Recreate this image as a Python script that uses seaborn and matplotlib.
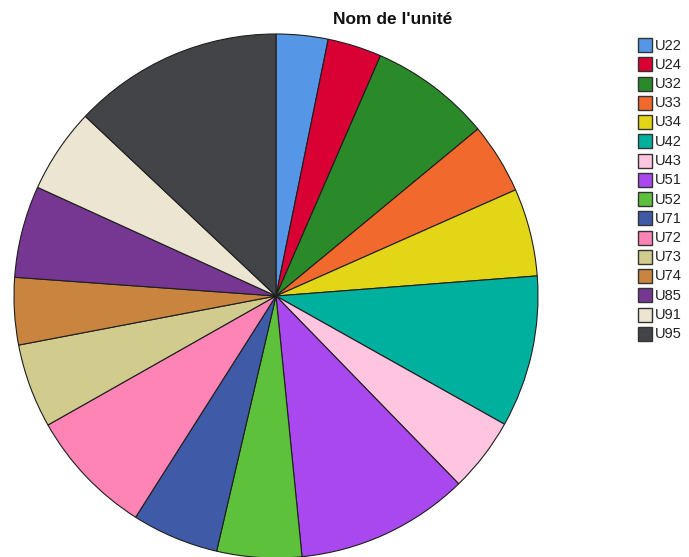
import matplotlib
matplotlib.use("Agg")
import matplotlib.pyplot as plt
from matplotlib.patches import Rectangle
import seaborn as sns

# Share of each unit (degrees of the full circle)
units = ["U22", "U24", "U32", "U33", "U34", "U42", "U43", "U51",
         "U52", "U71", "U72", "U73", "U74", "U85", "U91", "U95"]
shares = [11.5, 12.0, 26.9, 15.7, 19.5, 33.7, 16.5, 38.5,
          18.8, 19.3, 28.1, 18.7, 14.9, 20.4, 18.8, 46.7]
colors = ["#5597e6", "#d90033", "#2a8a2a", "#f2692d", "#e3d617", "#00b09f",
          "#ffc4e0", "#a948ef", "#5ec13b", "#3f5ba8", "#fe84b5", "#d1cb8e",
          "#c98540", "#753791", "#ebe5d2", "#434447"]

sns.set_theme(style="white")
plt.rcParams["font.family"] = ["Liberation Sans", "DejaVu Sans"]
palette = sns.color_palette(colors)

W, H = 689, 557
fig = plt.figure(figsize=(W / 100, H / 100), dpi=100)
fig.patch.set_facecolor("white")

# pie box: centre (276, 296) px, radius 262 px
cx, cy, r = 276, 296, 262
ax = fig.add_axes([(cx - r) / W, (H - cy - r) / H, 2 * r / W, 2 * r / H])
wedges, _ = ax.pie(shares, colors=palette, startangle=90, counterclock=False,
                   radius=1.0,
                   wedgeprops=dict(edgecolor="#1e1e1e", linewidth=0.8))
ax.set_xlim(-1, 1)
ax.set_ylim(-1, 1)
ax.set_aspect("auto")
ax.axis("off")

fig.text(393 / W, 1 - 20 / H, "Nom de l'unité", ha="center", va="center",
         fontsize=12.5, fontweight="bold", color="#111111")

# legend: square swatches with unit names, one row per unit
row_h = 19.25
for i, (name, col) in enumerate(zip(units, palette)):
    top = 38 + row_h * i
    fig.patches.append(Rectangle((638 / W, 1 - (top + 14) / H), 14 / W, 14 / H,
                                 transform=fig.transFigure, facecolor=col,
                                 edgecolor="#333333", linewidth=1.0))
    fig.text(655 / W, 1 - (top + 7.5) / H, name, ha="left", va="center",
             fontsize=10.5, color="#222222")

fig.savefig("out.png", dpi=100, facecolor="white")
